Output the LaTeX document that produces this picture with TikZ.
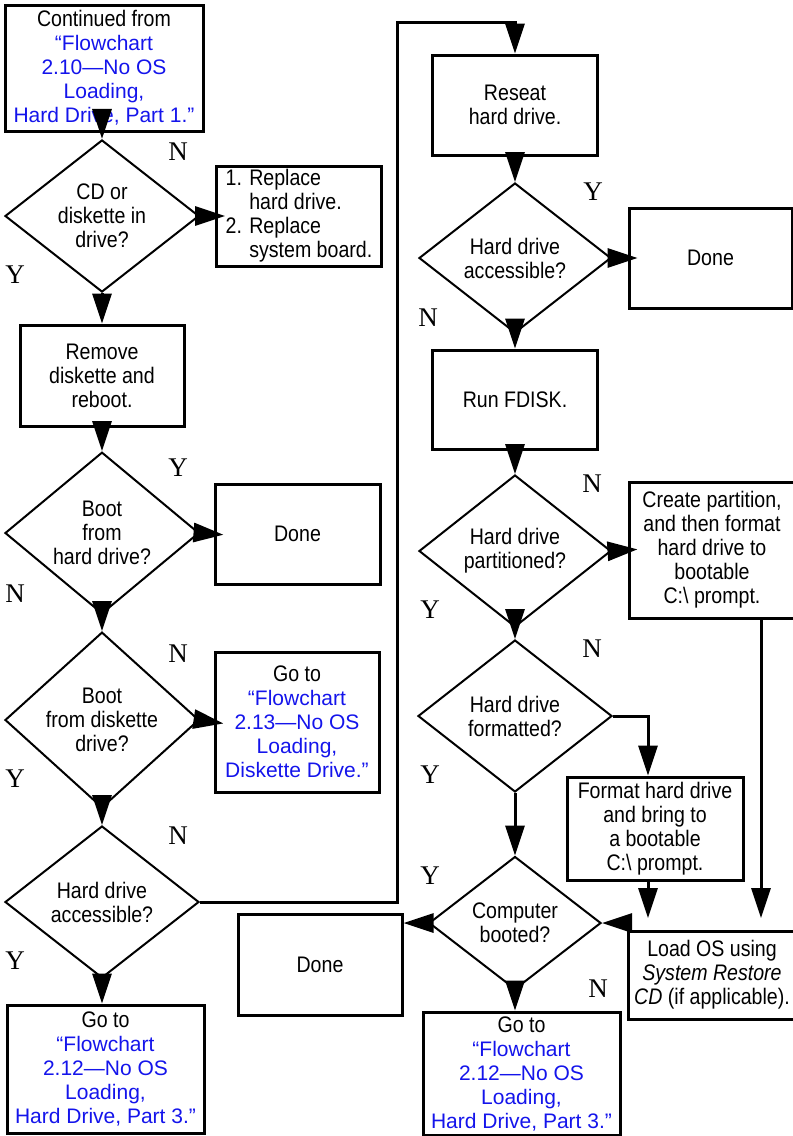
\documentclass[tikz,border=0pt]{standalone}
\usepackage{fontspec}
\setmainfont{Liberation Sans}
\newfontfamily\narrowfont{Liberation Sans}[FakeStretch=0.87]
\newfontfamily\ynfont{Liberation Serif}
\usetikzlibrary{shapes.geometric,arrows.meta}

\definecolor{linkblue}{RGB}{20,20,235}
\newcommand{\bodyfont}{\narrowfont\fontsize{22.5}{24}\selectfont}
\newcommand{\linkfont}{\rmfamily\fontsize{21}{24}\selectfont}

\begin{document}
\begin{tikzpicture}[x=1pt,y=-1pt,
    box/.style={draw,line width=3pt,rectangle,align=center,inner sep=2pt,font=\bodyfont},
    link/.style={box,text=linkblue,font=\linkfont},
    ask/.style={draw,line width=2pt,diamond,align=center,inner sep=0pt,
        minimum width=194pt,minimum height=152pt,font=\bodyfont},
    arr/.style={line width=3pt,-{Triangle[length=30pt,width=19pt]}},
    into/.style={arr,shorten >=-10pt},
    yn/.style={font=\ynfont\fontsize{27}{27}\selectfont,inner sep=0pt}]

    % Page size
    \useasboundingbox (0,0) rectangle (793,1136);

    % Left column
    \node[link,minimum width=198pt,minimum height=126pt] (start) at (104,68)
        {{\bodyfont\color{black}Continued from}\\“Flowchart\\2.10—No OS\\Loading,\\Hard Drive, Part 1.”};
    \node[ask] (cddisk) at (102,216) {CD or\\diskette in\\drive?};
    \node[box,align=left,minimum width=165pt,minimum height=100pt] (replace) at (299,216)
        {1. Replace\\\phantom{1. }hard drive.\\2. Replace\\\phantom{2. }system board.};
    \node[box,minimum width=164pt,minimum height=101pt] (remove) at (102,375.5)
        {Remove\\diskette and\\reboot.};
    \node[ask] (boothd) at (102,533) {Boot\\from\\hard drive?};
    \node[box,minimum width=165pt,minimum height=100pt] (doneA) at (297.5,534) {Done};
    \node[ask] (bootfd) at (102,720) {Boot\\from diskette\\drive?};
    \node[link,minimum width=164pt,minimum height=140pt] (gotoFD) at (297,722)
        {{\bodyfont\color{black}Go to}\\“Flowchart\\2.13—No OS\\Loading,\\Diskette Drive.”};
    \node[ask] (accessA) at (102,902) {Hard drive\\accessible?};
    \node[link,minimum width=197pt,minimum height=128pt] (gotoHDa) at (105.5,1069)
        {{\bodyfont\color{black}Go to}\\“Flowchart\\2.12—No OS\\Loading,\\Hard Drive, Part 3.”};
    \node[box,minimum width=164pt,minimum height=101pt] (doneB) at (320,964.5) {Done};

    % Right column
    \node[box,minimum width=165pt,minimum height=100pt] (reseat) at (515,105)
        {Reseat\\hard drive.};
    \node[ask,minimum width=192pt,minimum height=150pt] (accessB) at (515,258)
        {Hard drive\\accessible?};
    \node[box,minimum width=163pt,minimum height=100pt] (doneC) at (710.5,258) {Done};
    \node[box,minimum width=165pt,minimum height=99pt] (fdisk) at (515,399.5) {Run FDISK.};
    \node[ask,minimum width=192pt] (parted) at (515,551) {Hard drive\\partitioned?};
    \node[box,minimum width=166pt,minimum height=136pt] (mkpart) at (712,550)
        {Create partition,\\and then format\\hard drive to\\bootable\\C:\textbackslash{} prompt.};
    \node[ask] (formatted) at (515,716) {Hard drive\\formatted?};
    \node[box,minimum width=176pt,minimum height=103pt] (format) at (655,828.5)
        {Format hard drive\\and bring to\\a bootable\\C:\textbackslash{} prompt.};
    \node[ask,minimum width=172pt,minimum height=133pt] (booted) at (515,923)
        {Computer\\booted?};
    \node[box,minimum width=168pt,minimum height=88pt] (loados) at (712,975)
        {Load OS using\\\textit{System Restore}\\\textit{CD} (if applicable).};
    \node[link,minimum width=197pt,minimum height=123pt] (gotoHDb) at (521.5,1073.5)
        {{\bodyfont\color{black}Go to}\\“Flowchart\\2.12—No OS\\Loading,\\Hard Drive, Part 3.”};

    % Bends and loose ends
    \coordinate (topbend) at (397,22);
    \coordinate (fmtend) at (648,918);
    \coordinate (cpline) at (761,918);
    \coordinate (osstart) at (630,923);

    % Connectors, left column
    \draw[arr] (cddisk.north |- start.south) -- (cddisk.north);
    \draw[into] (cddisk.east) -- (replace.west);
    \draw[arr] (cddisk.south) -- (remove.north);
    \draw[arr] (remove.south) -- (boothd.north);
    \draw[into] (boothd.east) -- (doneA.west);
    \draw[arr] (boothd.south) -- (bootfd.north);
    \draw[into] (bootfd.east) -- (gotoFD.west);
    \draw[arr] (bootfd.south) -- (accessA.north);
    \draw[arr] (accessA.south) -- (accessA.south |- gotoHDa.north);
    \draw[arr] (accessA.east) -| (topbend) -| (reseat.north);

    % Connectors, right column
    \draw[arr] (reseat.south) -- (accessB.north);
    \draw[into] (accessB.east) -- (doneC.west);
    \draw[arr] (accessB.south) -- (fdisk.north);
    \draw[arr] (fdisk.south) -- (parted.north);
    \draw[into] (parted.east) -- (mkpart.west);
    \draw[arr] (parted.south) -- (formatted.north);
    \draw[arr] (formatted.east) -| (format.north -| fmtend);
    \draw[arr] (formatted.south) -- (booted.north);
    \draw[arr] (format.south -| fmtend) -- (fmtend);
    \draw[arr] (mkpart.south -| cpline) -- (cpline);
    \draw[arr] (osstart) -- (booted.east);
    \draw[arr] (booted.west) -- (booted.west -| doneB.east);
    \draw[arr] (booted.south) -- (booted.south |- gotoHDb.north);

    % Y / N labels
    \node[yn] (nA) at (178,152) {N};
    \node[yn] (yA) at (15,275) {Y};
    \node[yn] (yB) at (178,468) {Y};
    \node[yn] (nB) at (15,594) {N};
    \node[yn] (nC) at (178,654) {N};
    \node[yn] (yC) at (15,779) {Y};
    \node[yn] (nD) at (178,836) {N};
    \node[yn] (yD) at (15,961) {Y};
    \node[yn] (yE) at (593,192) {Y};
    \node[yn] (nE) at (428,318) {N};
    \node[yn] (nF) at (592,484) {N};
    \node[yn] (yF) at (430,610) {Y};
    \node[yn] (nG) at (592,649) {N};
    \node[yn] (yG) at (430,775) {Y};
    \node[yn] (yH) at (430,876) {Y};
    \node[yn] (nH) at (598,989) {N};

\end{tikzpicture}
\end{document}
